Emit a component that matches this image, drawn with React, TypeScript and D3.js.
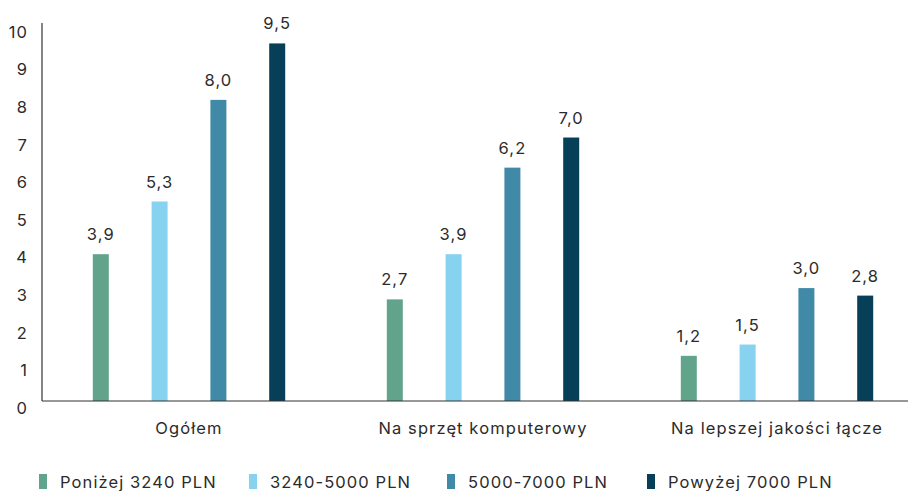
import React from "react";
import * as d3 from "d3";

const categories = ["Ogółem", "Na sprzęt komputerowy", "Na lepszej jakości łącze"];
const seriesNames = ["Poniżej 3240 PLN", "3240-5000 PLN", "5000-7000 PLN", "Powyżej 7000 PLN"];
const seriesColors = ["#62a38b", "#87d2ef", "#418aa7", "#073f59"];
const below3240 = [3.9, 2.7, 1.2];
const from3240to5000 = [5.3, 3.9, 1.5];
const from5000to7000 = [8.0, 6.2, 3.0];
const above7000 = [9.5, 7.0, 2.8];
const yTicks = [0, 1, 2, 3, 4, 5, 6, 7, 8, 9, 10];
const legendX = [39, 249, 447, 647];

const seriesValues = [below3240, from3240to5000, from5000to7000, above7000];

const W = 909;
const H = 491;
const FONT = "Inter, 'Open Sans', sans-serif";
const TEXT = "#2b2b2b";
const FS = 16.5;
const LS = 1.1;

export default function App() {
  const x0 = d3.scaleBand<string>().domain(categories).range([42, 924]);
  const x1 = d3.scalePoint<string>().domain(seriesNames).range([0, x0.bandwidth()]).padding(1);
  const y = d3.scaleLinear().domain([0, 10]).range([401, 24.6]);
  const barW = 16;
  const fmt = (v: number) => v.toFixed(1).replace(".", ",");

  return (
    <svg
      width={W}
      height={H}
      style={{ position: "absolute", left: 0, top: 0, background: "#fff" }}
      fontFamily={FONT}
      letterSpacing={LS}
    >
      {yTicks.map((t) => (
        <text key={t} x={28} y={y(t) + 13} textAnchor="end" fontSize={FS} fill={TEXT}>
          {t}
        </text>
      ))}
      {seriesValues.map((vals, si) =>
        vals.map((v, ci) => {
          const cx = (x0(categories[ci]) as number) + (x1(seriesNames[si]) as number);
          return (
            <g key={`${si}-${ci}`}>
              <rect x={cx - barW / 2} y={y(v)} width={barW} height={y(0) - y(v)} fill={seriesColors[si]} />
              <text x={cx} y={y(v) - 14} textAnchor="middle" fontSize={FS} fill={TEXT}>
                {fmt(v)}
              </text>
            </g>
          );
        })
      )}
      <line x1={42} x2={908} y1={y(0)} y2={y(0)} stroke="#333" strokeWidth={1.2} />
      <line x1={42} x2={42} y1={23} y2={y(0)} stroke="#333" strokeWidth={1.2} />
      {categories.map((c) => (
        <text
          key={c}
          x={(x0(c) as number) + x0.bandwidth() / 2}
          y={434}
          textAnchor="middle"
          fontSize={FS}
          fill={TEXT}
        >
          {c}
        </text>
      ))}
      {seriesNames.map((s, i) => (
        <g key={s}>
          <rect x={legendX[i]} y={474} width={8} height={15} fill={seriesColors[i]} />
          <text x={legendX[i] + 21} y={487.5} fontSize={FS} fill={TEXT}>
            {s}
          </text>
        </g>
      ))}
    </svg>
  );
}
